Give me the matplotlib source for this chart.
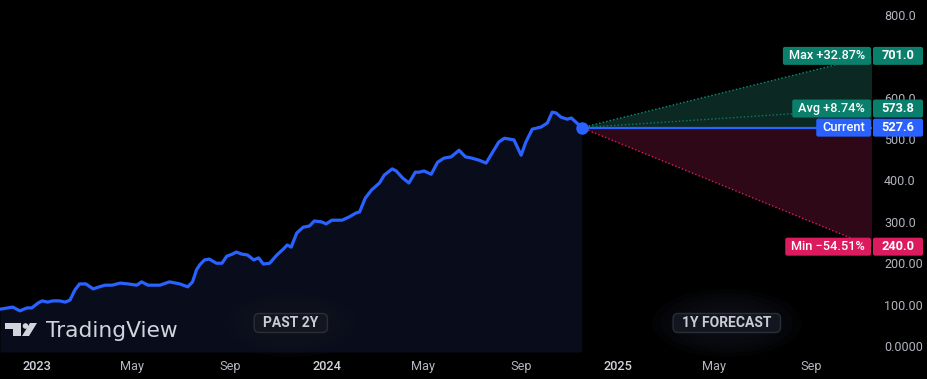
import matplotlib
matplotlib.use("Agg")
import matplotlib.pyplot as plt
import matplotlib.transforms as mtransforms
from matplotlib.patches import FancyBboxPatch, Ellipse, Polygon, Circle
import pandas as pd

# weekly-ish closes
dates = pd.to_datetime([
    '2022-11-16', '2022-12-02', '2022-12-11', '2022-12-20', '2022-12-26',
    '2023-01-03', '2023-01-08', '2023-01-15', '2023-01-21', '2023-01-30',
    '2023-02-06', '2023-02-12', '2023-02-18', '2023-02-24', '2023-03-04',
    '2023-03-13', '2023-03-21', '2023-03-28', '2023-04-06', '2023-04-16',
    '2023-04-26', '2023-05-07', '2023-05-13', '2023-05-21', '2023-06-05',
    '2023-06-17', '2023-06-30', '2023-07-10', '2023-07-16', '2023-07-21',
    '2023-07-25', '2023-07-31', '2023-08-06', '2023-08-15', '2023-08-22',
    '2023-08-28', '2023-09-04', '2023-09-09', '2023-09-16', '2023-09-23',
    '2023-10-01', '2023-10-07', '2023-10-13', '2023-10-21', '2023-10-30',
    '2023-11-07', '2023-11-12', '2023-11-17', '2023-11-24', '2023-12-02',
    '2023-12-10', '2023-12-16', '2023-12-25', '2023-12-31', '2024-01-07',
    '2024-01-20', '2024-01-29', '2024-02-06', '2024-02-11', '2024-02-18',
    '2024-02-26', '2024-03-07', '2024-03-13', '2024-03-23', '2024-03-28',
    '2024-04-05', '2024-04-13', '2024-04-21', '2024-04-26', '2024-05-02',
    '2024-05-11', '2024-05-19', '2024-05-27', '2024-06-05', '2024-06-15',
    '2024-06-23', '2024-07-01', '2024-07-10', '2024-07-19', '2024-07-28',
    '2024-08-04', '2024-08-11', '2024-08-23', '2024-09-01', '2024-09-07',
    '2024-09-15', '2024-09-26', '2024-10-04', '2024-10-10', '2024-10-15',
    '2024-10-21', '2024-10-29', '2024-11-03', '2024-11-10', '2024-11-16'])
price = [
    89, 94, 85, 92, 92,
    104, 109, 106, 109, 109,
    106, 111, 135, 150, 150,
    138, 143, 147, 147, 152,
    150, 147, 155, 147, 147,
    155, 150, 143, 155, 184,
    196, 208, 210, 200, 200,
    217, 222, 227, 222, 220,
    208, 213, 198, 200, 220,
    234, 244, 239, 273, 287,
    290, 302, 300, 295, 304,
    304, 312, 321, 324, 357,
    377, 394, 413, 428, 423,
    406, 394, 420, 420, 423,
    415, 444, 454, 457, 473,
    457, 454, 449, 442, 471,
    493, 502, 498, 461, 493,
    524, 529, 539, 565, 563,
    553, 548, 551, 539, 527.6]

current = 527.6
forecast_max = 701.0
forecast_avg = 573.8
forecast_min = 240.0
max_pct = 32.87
avg_pct = 8.74
min_pct = -54.51

# 700.0 sits fully under the Max tag, so it is left out
ytick_vals = [0, 100, 200, 300, 400, 500, 600, 800]
ytick_labels = ['0.0000', '100.00', '200.00', '300.0', '400.0', '500.0', '600.0', '800.0']
xtick_dates = pd.to_datetime(['2023-01-01', '2023-05-01', '2023-09-01', '2024-01-01', '2024-05-01',
                              '2024-09-01', '2025-01-01', '2025-05-01', '2025-09-01'])
xtick_labels = ['2023', 'May', 'Sep', '2024', 'May', 'Sep', '2025', 'May', 'Sep']

plt.rcParams['font.family'] = ['Roboto', 'DejaVu Sans']

BLUE = '#2962ff'
GREEN = '#0a7f6b'
RED = '#dc1a5e'
GREY = '#b2b5be'

W, H = 928, 379
fig = plt.figure(figsize=(W / 100, H / 100), dpi=100, facecolor='black')
ax = fig.add_axes([0, 27 / H, 872 / W, 352 / H])
ax.set_facecolor('black')

start = pd.Timestamp('2022-11-16')
last = dates[-1]
end = last + pd.Timedelta(days=365)
ax.set_xlim(start, end)
ax.set_ylim(-14.5, 836)

# history
ax.fill_between(dates, price, -14.5, color='#080c1b', lw=0, zorder=1)
ax.plot(dates, price, color=BLUE, lw=2.3, solid_joinstyle='round', solid_capstyle='round', zorder=5)

# forecast cone
ax.fill([last, end, end], [current, forecast_max, current], color='#0b2822', lw=0, zorder=1)
ax.fill([last, end, end], [current, current, forecast_min], color='#2e0817', lw=0, zorder=1)
ax.plot([last, end], [current, forecast_max], color='#0f8f78', lw=1, ls=(0, (1, 1.6)), zorder=2)
ax.plot([last, end], [current, forecast_avg], color='#0f8f78', lw=1, ls=(0, (1, 1.6)), alpha=0.8, zorder=2)
ax.plot([last, end], [current, forecast_min], color=RED, lw=1, ls=(0, (1, 1.6)), zorder=2)
ax.plot([last, end], [current, current], color=BLUE, lw=1.6, zorder=3)
ax.plot([last], [current], 'o', ms=8, color=BLUE, zorder=6)

for s in ax.spines.values():
    s.set_visible(False)
ax.yaxis.tick_right()
ax.set_yticks(ytick_vals, ytick_labels)
ax.set_xticks(xtick_dates, xtick_labels)
ax.tick_params(axis='y', length=0, pad=8.6, labelcolor=GREY, labelsize=9)
ax.tick_params(axis='x', length=0, pad=5.5, labelcolor=GREY, labelsize=9.2)
for lbl in ax.get_xticklabels():
    if lbl.get_text().isdigit():
        lbl.set_color('#d1d4dc')
        lbl.set_fontweight('medium')

renderer = fig.canvas.get_renderer()
px = mtransforms.IdentityTransform()


def mdate(d):
    return matplotlib.dates.date2num(d)


def tag(value, name, color):
    yc = ax.transData.transform((0, value))[1]
    fig.add_artist(FancyBboxPatch((873, yc - 9), 50, 18, boxstyle='round,pad=0,rounding_size=2',
                                  transform=px, fc=color, ec='none', zorder=10))
    fig.text(898 / W, yc / H, f'{value:.1f}', ha='center', va='center', color='white',
             fontsize=9.2, fontweight='bold', zorder=11)
    t = fig.text(865 / W, yc / H, name, ha='right', va='center', color='white',
                 fontsize=9.2, fontweight='medium', zorder=11)
    bb = t.get_window_extent(renderer)
    fig.add_artist(FancyBboxPatch((bb.x0 - 6, yc - 9), 871 - bb.x0 + 6, 18,
                                  boxstyle='round,pad=0,rounding_size=2',
                                  transform=px, fc=color, ec='none', zorder=10))


def fmt(p):
    return f'{p:+.2f}%'.replace('-', '\u2212')


tag(forecast_max, f'Max {fmt(max_pct)}', GREEN)
tag(forecast_avg, f'Avg {fmt(avg_pct)}', GREEN)
tag(current, 'Current', BLUE)
tag(forecast_min, f'Min {fmt(min_pct)}', RED)


def badge(x0, x1, text):
    xc = (ax.transData.transform((mdate(x0), 0))[0] + ax.transData.transform((mdate(x1), 0))[0]) / 2
    yc = H - 323
    for k in range(7):
        f = 1 - k * 0.12
        fig.add_artist(Ellipse((xc, yc), 150 * f, 68 * f, transform=px, fc='#12151e',
                               ec='none', alpha=0.18, zorder=7))
    t = fig.text(xc / W, yc / H, text, ha='center', va='center', color='#c9ccd4',
                 fontsize=10, fontweight='bold', zorder=9)
    bb = t.get_window_extent(renderer)
    fig.add_artist(FancyBboxPatch((bb.x0 - 9, yc - 9.5), bb.width + 18, 19,
                                  boxstyle='round,pad=0,rounding_size=5', transform=px,
                                  fc='#13161f', ec='#2a2e39', lw=1, zorder=8))


badge(start, last, 'PAST 2Y')
badge(last, end, '1Y FORECAST')


# TradingView logo
def top(y):
    return H - y


fig.add_artist(Polygon([(5, top(323)), (21, top(323)), (21, top(336)), (13, top(336)),
                        (13, top(329)), (5, top(329))], closed=True, transform=px,
                       fc='#d1d4dc', ec='none', zorder=9))
fig.add_artist(Circle((25.5, top(326)), 2.8, transform=px, fc='#d1d4dc', ec='none', zorder=9))
fig.add_artist(Polygon([(30, top(323)), (37, top(323)), (29, top(336)), (22, top(336))],
                       closed=True, transform=px, fc='#d1d4dc', ec='none', zorder=9))
fig.text(46 / W, top(337) / H, 'TradingView', ha='left', va='baseline', color='#d1d4dc',
         fontsize=15.7, family='DejaVu Sans', zorder=9)

fig.savefig('out.png', dpi=100, facecolor='black')
